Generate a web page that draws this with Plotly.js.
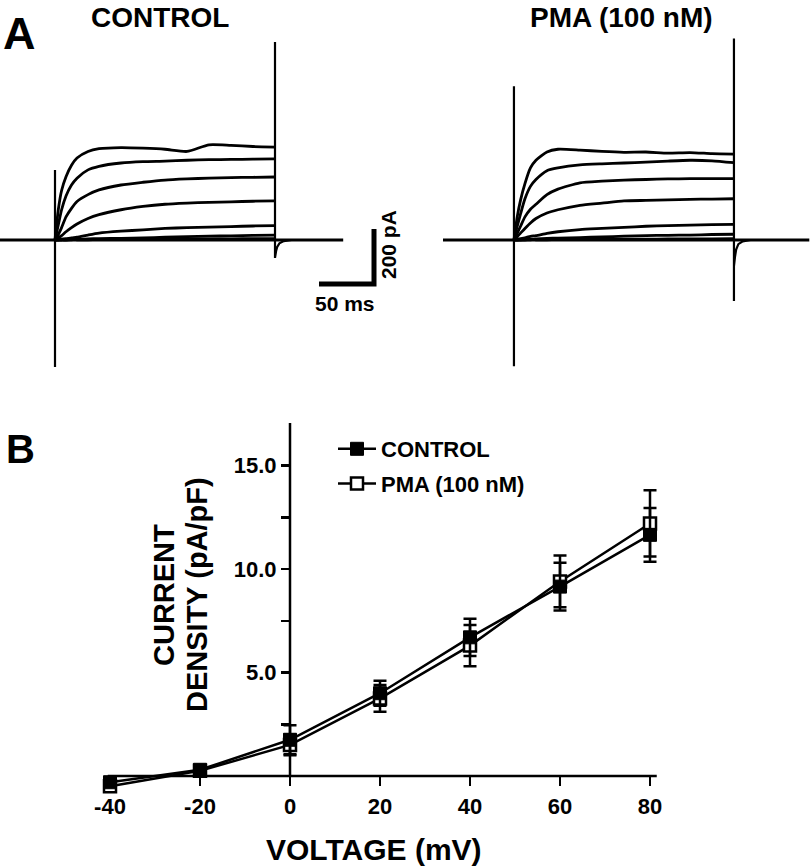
<!DOCTYPE html>
<html><head><meta charset="utf-8">
<script src="https://cdn.plot.ly/plotly-3.0.1.min.js"></script>
<style>html,body{margin:0;padding:0;background:#fff}#chart{width:812px;height:867px}</style>
</head><body><div id="chart"></div>
<script>
// ================= DATA =================
// Panel B: current density vs voltage (mean ± SEM)
const voltages = [-40, -20, 0, 20, 40, 60, 80];
const controlDensity = [-0.3, 0.3, 1.75, 4.0, 6.7, 9.15, 11.65];
const controlSEM     = [0.15, 0.2, 0.7, 0.6, 0.9, 1.15, 1.3];
const pmaDensity     = [-0.5, 0.25, 1.5, 3.75, 6.3, 9.4, 12.2];
const pmaSEM         = [0.15, 0.2, 0.5, 0.65, 1.0, 1.25, 1.6];
const xTickVals = [-40, -20, 0, 20, 40, 60, 80];
const xTickText = ['-40', '-20', '0', '20', '40', '60', '80'];
const yTickVals = [2.5, 5, 7.5, 10, 12.5, 15];
const yTickText = ['', '5.0', '', '10.0', '', '15.0'];

// Panel A: current traces (time in ms after step onset, current in pA)
const stepTimes = [0, 3, 6, 10, 15, 20, 30, 40, 60, 80, 100, 120, 140, 160, 180, 200];
const controlTraces = [
  [0, 110, 180, 230, 272, 298, 322, 332, 336, 334, 330, 322, 346, 344, 340, 338],
  [0, 55, 110, 160, 200, 225, 255, 268, 280, 285, 287, 290, 292, 293, 294, 295],
  [0, 20, 45, 84, 115, 140, 165, 182, 200, 210, 218, 222, 225, 227, 228, 229],
  [0, 8, 16, 30, 45, 58, 78, 92, 110, 122, 130, 134, 137, 139, 141, 142],
  [0, 2, 3, 5, 8, 10, 18, 25, 32, 37, 42, 45, 47, 49, 51, 52],
  [0, 0, 1, 1, 2, 3, 4, 5, 6, 8, 10, 12, 14, 15, 17, 18],
  [0, 0, 0, 0, 1, 1, 1, 2, 2, 3, 3, 4, 4, 4, 5, 5]
];
const pmaTraces = [
  [0, 85, 145, 205, 262, 290, 320, 330, 327, 322, 319, 320, 316, 318, 314, 312],
  [0, 50, 95, 150, 195, 220, 252, 262, 273, 277, 280, 283, 287, 290, 288, 281],
  [0, 25, 50, 84, 112, 130, 165, 185, 208, 214, 218, 220, 222, 223, 223, 223],
  [0, 12, 25, 42, 62, 78, 98, 110, 126, 134, 142, 144, 146, 148, 149, 150],
  [0, 3, 5, 8, 13, 16, 24, 30, 38, 42, 46, 50, 52, 54, 56, 57],
  [0, 0, 1, 2, 3, 4, 6, 7, 9, 11, 14, 16, 17, 18, 20, 21],
  [0, 0, 0, 0, 1, 1, 1, 2, 2, 3, 3, 3, 4, 4, 4, 5]
];
// recording timing (ms): step onset, step duration, record length
const controlOnset = 50, pmaOnset = 64.5, stepDuration = 200;
const controlLength = 312, pmaLength = 333;
// capacitive transients (pA): [onset up, onset down, offset up, offset down]
const controlSpikes = [255, -462, 720, -65];
const pmaSpikes = [559, -459, 733, -222];
// tail currents after the step (ms after step end, pA)
const tailTimes = [0, 1, 2, 4, 8, 15];
const controlTail = [-65, -40, -25, -12, -4, 0];
const pmaTail = [-96, -60, -35, -15, -5, 0];
// scale bar: 50 ms, 200 pA
const scaleBarMs = 50, scaleBarPA = 200;
const scaleBarCorner = [340, -160];

// ================= LAYOUT HELPERS =================
const W = 812, H = 867;
const px = v => v / W;
const py = v => 1 - v / H;
const FONT = 'Liberation Sans, Arial, Helvetica, sans-serif';
const BLACK = '#000';

// Panel B geometry
const bX0 = 290, bPxPerMV = 4.5, bY0 = 776, bPxPerUnit = 20.7;
const bXRange = [-44, 84], bYRange = [-1.5, 17.05];
const bXDom = [px(bX0 + bXRange[0] * bPxPerMV), px(bX0 + bXRange[1] * bPxPerMV)];
const bYDom = [py(bY0 - bYRange[0] * bPxPerUnit), py(bY0 - bYRange[1] * bPxPerUnit)];

// Panel A geometry
const aPxPerMs = 1.1, aPxPerPA = 0.275, aBase = 240;
const aTop = 25, aBot = 380;
const aYRange = [(aBase - aBot) / aPxPerPA, (aBase - aTop) / aPxPerPA];
const ctrlDomPx = [0, 400], ctrlStartPx = 0;
const pmaDomPx = [425, 812], pmaStartPx = 443;

const traces = [];

function addRecording(xa, onset, length, stepSet, spikes, tail) {
  const lw = 2.8;
  traces.push({x: [0, length], y: [0, 0], xaxis: xa, yaxis: 'y2', mode: 'lines',
    line: {color: BLACK, width: 3.2}, showlegend: false, hoverinfo: 'skip'});
  stepSet.forEach(vals => {
    traces.push({x: stepTimes.map(t => t + onset), y: vals, xaxis: xa, yaxis: 'y2',
      mode: 'lines', line: {color: BLACK, width: lw, shape: 'spline', smoothing: 0.6},
      showlegend: false, hoverinfo: 'skip'});
  });
  traces.push({x: [onset, onset, onset], y: [0, spikes[0], spikes[1]], xaxis: xa, yaxis: 'y2',
    mode: 'lines', line: {color: BLACK, width: 2.2}, showlegend: false, hoverinfo: 'skip'});
  const end = onset + stepDuration;
  traces.push({x: [end, end].concat(tailTimes.map(t => t + end)),
    y: [spikes[2], spikes[3]].concat(tail), xaxis: xa, yaxis: 'y2',
    mode: 'lines', line: {color: BLACK, width: 2.2}, showlegend: false, hoverinfo: 'skip'});
}
addRecording('x2', controlOnset, controlLength, controlTraces, controlSpikes, controlTail);
addRecording('x3', pmaOnset, pmaLength, pmaTraces, pmaSpikes, pmaTail);

// scale bar
traces.push({x: [scaleBarCorner[0] - scaleBarMs, scaleBarCorner[0], scaleBarCorner[0]],
  y: [scaleBarCorner[1], scaleBarCorner[1], scaleBarCorner[1] + scaleBarPA],
  xaxis: 'x2', yaxis: 'y2', mode: 'lines', line: {color: BLACK, width: 5},
  showlegend: false, hoverinfo: 'skip'});

// Panel B series
traces.push({x: voltages, y: pmaDensity, name: 'PMA (100 nM)', mode: 'lines+markers',
  xaxis: 'x', yaxis: 'y', legendrank: 2, legendgroup: 'p', cliponaxis: false,
  line: {color: BLACK, width: 2.5},
  marker: {symbol: 'square', size: 12, color: '#fff', line: {color: BLACK, width: 2.5}},
  error_y: {type: 'data', array: pmaSEM, visible: true, color: BLACK, thickness: 2.5, width: 6.5}});
traces.push({x: voltages, y: controlDensity, name: 'CONTROL', mode: 'lines+markers',
  xaxis: 'x', yaxis: 'y', legendrank: 1, legendgroup: 'c', cliponaxis: false,
  line: {color: BLACK, width: 2.5},
  marker: {symbol: 'square', size: 13, color: BLACK, line: {color: BLACK, width: 1}},
  error_y: {type: 'data', array: controlSEM, visible: true, color: BLACK, thickness: 2.5, width: 6.5}});

const tickFont = {family: FONT, size: 22, color: BLACK, weight: 'bold'};
const hidden = {visible: false, showgrid: false, zeroline: false, fixedrange: true};

function ann(text, x, y, size, angle) {
  return {text: '<b>' + text + '</b>', x: px(x), y: py(y), xref: 'paper', yref: 'paper',
    showarrow: false, xanchor: 'center', yanchor: 'middle', textangle: angle || 0,
    font: {family: FONT, size: size, color: BLACK, weight: 'bold'}};
}

const layout = {
  width: W, height: H, margin: {l: 0, r: 0, t: 0, b: 0},
  paper_bgcolor: '#fff', plot_bgcolor: 'rgba(0,0,0,0)',
  showlegend: true,
  legend: {x: px(333), y: py(428), xanchor: 'left', yanchor: 'top', traceorder: 'grouped',
    tracegroupgap: 3, itemwidth: 38, bgcolor: 'rgba(0,0,0,0)',
    font: {family: FONT, size: 22, color: BLACK, weight: 'bold'}},
  xaxis: {domain: bXDom, range: bXRange, anchor: 'free', position: py(bY0),
    showline: false, zeroline: false, showgrid: false, ticks: 'outside', ticklen: 9,
    tickwidth: 2.5, tickcolor: BLACK, tickvals: xTickVals, ticktext: xTickText,
    tickfont: tickFont, ticklabelstandoff: 2, fixedrange: true},
  yaxis: {domain: bYDom, range: bYRange, anchor: 'free', position: px(bX0),
    showline: false, zeroline: false, showgrid: false, ticks: 'outside', ticklen: 9,
    tickwidth: 2.5, tickcolor: BLACK, tickvals: yTickVals, ticktext: yTickText,
    tickfont: tickFont, fixedrange: true},
  xaxis2: Object.assign({}, hidden, {domain: [px(ctrlDomPx[0]), px(ctrlDomPx[1])],
    range: [(ctrlDomPx[0] - ctrlStartPx) / aPxPerMs, (ctrlDomPx[1] - ctrlStartPx) / aPxPerMs],
    anchor: 'y2'}),
  xaxis3: Object.assign({}, hidden, {domain: [px(pmaDomPx[0]), px(pmaDomPx[1])],
    range: [(pmaDomPx[0] - pmaStartPx) / aPxPerMs, (pmaDomPx[1] - pmaStartPx) / aPxPerMs],
    anchor: 'y2'}),
  yaxis2: Object.assign({}, hidden, {domain: [py(aBot), py(aTop)], range: aYRange, anchor: 'x2'}),
  shapes: [
    {type: 'line', xref: 'x', yref: 'y', x0: -40.5, x1: 81.5, y0: 0, y1: 0,
      line: {color: BLACK, width: 2.5}},
    {type: 'line', xref: 'x', yref: 'y', x0: 0, x1: 0, y0: 0, y1: 17.05,
      line: {color: BLACK, width: 2.5}}
  ],
  annotations: [
    ann('A', 19, 34, 45),
    ann('B', 20, 449, 40),
    ann('CONTROL', 160, 17, 28),
    ann('PMA (100 nM)', 621, 18, 28),
    ann('50 ms', 345, 303, 21),
    ann('200 pA', 389, 245, 21, -90),
    ann('CURRENT', 164, 595, 29, -90),
    ann('DENSITY (pA/pF)', 197, 595, 29, -90),
    ann('VOLTAGE (mV)', 374, 849, 30)
  ]
};

Plotly.newPlot('chart', traces, layout, {displayModeBar: false, staticPlot: true});
</script></body></html>
